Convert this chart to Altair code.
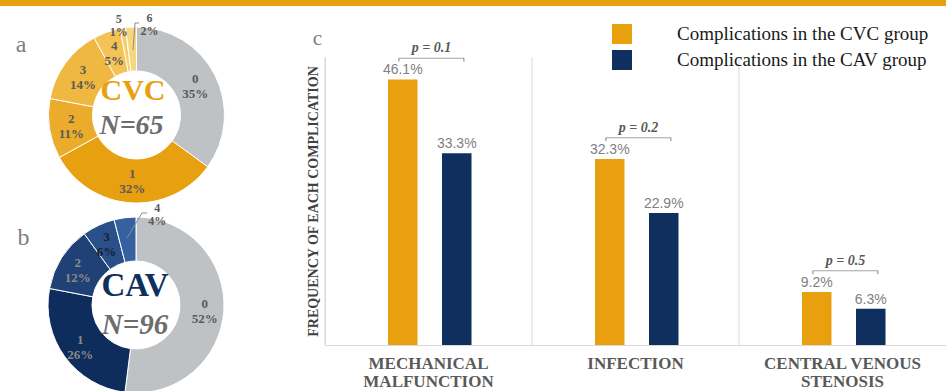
import altair as alt
import pandas as pd

# ---------------- data ----------------
categories = ["MECHANICAL\nMALFUNCTION", "INFECTION", "CENTRAL VENOUS\nSTENOSIS"]
cvc_freq = [46.1, 32.3, 9.2]
cav_freq = [33.3, 22.9, 6.3]
p_labels = ["p = 0.1", "p = 0.2", "p = 0.5"]
groups = ["Complications in the CVC group", "Complications in the CAV group"]

cvc_counts = ["0", "1", "2", "3", "4", "5", "6"]
cvc_share = [35, 32, 11, 14, 5, 1, 2]
cav_counts = ["0", "1", "2", "3", "4"]
cav_share = [52, 26, 12, 6, 4]

# ---------------- styles ----------------
ORANGE = "#E8A00E"
NAVY = "#0F2F5E"
GRID = "#D9D9D9"
cvc_colors = ["#BEC2C5", "#E6A010", "#EBAC2C", "#EFB840", "#F3C355", "#F6CD6B", "#F8D67E"]
cav_colors = ["#BEC2C5", "#0F2D5C", "#1F4175", "#2A5089", "#3561A0"]
cav_text_colors = ["#595959", "#8A8A8A", "#8A8A8A", "#141E33", "#595959"]
SERIF = "Liberation Serif"

# ---------------- tables ----------------
bar_rows = []
for i, c in enumerate(categories):
    bar_rows.append({"category": c, "group": groups[0], "value": cvc_freq[i]})
    bar_rows.append({"category": c, "group": groups[1], "value": cav_freq[i]})
bar_df = pd.DataFrame(bar_rows)

br_df = pd.DataFrame({"category": categories, "p": p_labels, "cvc": cvc_freq, "cav": cav_freq})

donut_rows = []
for i, (k, s) in enumerate(zip(cvc_counts, cvc_share)):
    donut_rows.append({"donut": "CVC", "idx": i, "count": k, "share": s})
for i, (k, s) in enumerate(zip(cav_counts, cav_share)):
    donut_rows.append({"donut": "CAV", "idx": i, "count": k, "share": s})
donut_df = pd.DataFrame(donut_rows)

one = pd.DataFrame({"k": [0]})

# ---------------- encodings ----------------
xaxis = alt.Axis(
    labelExpr="split(datum.label, '\\n')",
    labelFont=SERIF, labelFontSize=17, labelFontWeight="bold", labelColor="#595959",
    labelPadding=10, labelLineHeight=18, labelAngle=0, labelBaseline="top",
    ticks=False, domainColor=GRID, grid=False,
)
yaxis = alt.Axis(
    labels=False, ticks=False, grid=False, domainColor=GRID,
    titleFont=SERIF, titleFontSize=14, titleFontWeight="bold", titleColor="#404040",
    titlePadding=5,
)
YTITLE = "FREQUENCY OF EACH COMPLICATION"
xscale = alt.Scale(domain=categories, paddingInner=0, paddingOuter=0)
yscale = alt.Scale(domain=[0, 50], nice=False)


def xenc(**kw):
    return alt.X("category:N", sort=categories, scale=xscale, axis=xaxis, title=None, **kw)


def yenc(field):
    return alt.Y(field, scale=yscale, axis=yaxis, title=YTITLE)


xoff = alt.XOffset("group:N", sort=groups,
                   scale=alt.Scale(domain=groups, range=[63, 146.5], paddingInner=0.454, paddingOuter=0))

# ---------------- bar chart ----------------
grid = alt.Chart(br_df).mark_rule(color=GRID, strokeWidth=1).encode(
    x=xenc(bandPosition=0),
    y=alt.YDatum(0, scale=yscale, axis=yaxis, title=YTITLE),
    y2=alt.Y2Datum(50),
)

bars = alt.Chart(bar_df).mark_bar().encode(
    x=xenc(),
    xOffset=xoff,
    y=yenc("value:Q"),
    color=alt.Color(
        "group:N", sort=groups,
        scale=alt.Scale(domain=groups, range=[ORANGE, NAVY]),
        legend=alt.Legend(
            title=None, orient="none", legendX=287, legendY=-33,
            symbolType="square", symbolSize=400, symbolStrokeWidth=0, symbolOpacity=1,
            labelFont=SERIF, labelFontSize=19, labelColor="#1A1A1A",
            labelOffset=45, rowPadding=6, padding=0, labelLimit=400,
        ),
    ),
)

bar_text = alt.Chart(bar_df).transform_calculate(
    label="format(datum.value, '.1f') + '%'"
).mark_text(baseline="bottom", dy=-2, font="Liberation Sans", fontSize=14, color="#7F7F7F").encode(
    x=xenc(), xOffset=xoff, y=yenc("value:Q"), text="label:N"
)

br_base = alt.Chart(br_df).transform_calculate(
    level="max(datum.cvc, datum.cav) + 3.7",
    lo="max(datum.cvc, datum.cav) + 3.1",
)
br_line = br_base.mark_tick(thickness=1, size=65, color="#7F7F7F", xOffset=3).encode(
    x=xenc(), y=yenc("level:Q")
)
br_left = br_base.mark_rule(color="#7F7F7F").encode(
    x=xenc(bandPosition=0.357), y=yenc("level:Q"), y2="lo:Q"
)
br_right = br_base.mark_rule(color="#7F7F7F").encode(
    x=xenc(bandPosition=0.671), y=yenc("level:Q"), y2="lo:Q"
)
br_text = br_base.mark_text(
    baseline="bottom", dx=3, dy=-3, font=SERIF, fontStyle="italic", fontWeight="bold",
    fontSize=14, color="#595959"
).encode(x=xenc(), y=yenc("level:Q"), text="p:N")

# ---------------- donuts ----------------
theta_scale = alt.Scale(domain=[0, 100])
dbase = alt.Chart(donut_df).transform_stack(
    stack="share", groupby=["donut"], as_=["s0", "s1"], sort=[alt.SortField("idx", order="ascending")]
).transform_calculate(
    mid="(datum.s0 + datum.s1) / 2",
    lines="[datum.count, datum.share + '%']",
)

CVC_X, CVC_Y = -188.5, 58
CAV_X, CAV_Y = -189, 248


def donut(name, cx, cy, doms, cols):
    return dbase.transform_filter(f"datum.donut == '{name}'").mark_arc(
        innerRadius=44, outerRadius=88, stroke="white", strokeWidth=1
    ).encode(
        x=alt.value(cx), y=alt.value(cy),
        theta=alt.Theta("s0:Q", scale=theta_scale), theta2="s1:Q",
        color=alt.Color("count:N", scale=alt.Scale(domain=doms, range=cols), legend=None),
        order=alt.Order("idx:Q"),
    )


def dlabels(cond, cx, cy, radius, dx=0, dy=0, color=None, doms=None, cols=None, lh=15, fs=13):
    enc = dict(
        x=alt.value(cx), y=alt.value(cy),
        theta=alt.Theta("mid:Q", scale=theta_scale),
        text="lines:N",
    )
    if doms is not None:
        enc["color"] = alt.Color("count:N", scale=alt.Scale(domain=doms, range=cols), legend=None)
    mk = dict(radius=radius, dx=dx, dy=dy, baseline="middle", align="center", font=SERIF,
              fontWeight="bold", fontSize=fs, lineHeight=lh)
    if color is not None:
        mk["color"] = color
    return dbase.transform_filter(cond).mark_text(**mk).encode(**enc)


cvc_arc = donut("CVC", CVC_X, CVC_Y, cvc_counts, cvc_colors)
cav_arc = donut("CAV", CAV_X, CAV_Y, cav_counts, cav_colors)

cvc_in = dlabels("datum.donut == 'CVC' && datum.share >= 5", CVC_X, CVC_Y, 66, dy=-6.5, color="#595959")
cvc_5 = dlabels("datum.donut == 'CVC' && datum.count == '5'", CVC_X, CVC_Y, 95, dx=-3, dy=-2.5,
                color="#595959", lh=13, fs=12)
cvc_6 = dlabels("datum.donut == 'CVC' && datum.count == '6'", CVC_X, CVC_Y, 96, dx=19, dy=-1,
                color="#595959", lh=13, fs=12)
cav_in = dlabels("datum.donut == 'CAV' && datum.share >= 5", CAV_X, CAV_Y, 69, dy=-5.5,
                 doms=cav_counts, cols=cav_text_colors)
cav_4 = dlabels("datum.donut == 'CAV' && datum.count == '4'", CAV_X, CAV_Y, 93, dx=33, dy=-5,
                color="#595959", lh=13, fs=12)

# leader lines for small outside labels
lead = alt.Chart(one)
leaders = [
    lead.mark_rule(color="#8C8C8C").encode(x=alt.value(-192), y=alt.value(-7), x2=alt.value(-190), y2=alt.value(-34)),
    lead.mark_rule(color="#8C8C8C").encode(x=alt.value(-190), y=alt.value(-34), x2=alt.value(-186), y2=alt.value(-34)),
    lead.mark_rule(color="#8C8C8C").encode(x=alt.value(-198), y=alt.value(181), x2=alt.value(-183), y2=alt.value(156)),
    lead.mark_rule(color="#8C8C8C").encode(x=alt.value(-183), y=alt.value(156), x2=alt.value(-178), y2=alt.value(156)),
]


def note(txt, x, y, size, color, weight="normal", style="normal"):
    return alt.Chart(one).mark_text(
        text=txt, font=SERIF, fontSize=size, color=color, fontWeight=weight, fontStyle=style,
        align="center", baseline="middle"
    ).encode(x=alt.value(x), y=alt.value(y))


notes = [
    note("CVC", -192, 34, 30, ORANGE, "bold"),
    note("N=65", -193.5, 69, 28, "#6D6D6D", "bold", "italic"),
    note("CAV", -190, 229, 33, NAVY, "bold"),
    note("N=96", -190, 268, 29, "#6D6D6D", "bold", "italic"),
    note("a", -304, -12, 24, "#7F7F7F"),
    note("b", -301.5, 181, 24, "#7F7F7F"),
    note("c", -7.5, -18, 21, "#7F7F7F"),
]

band = alt.Chart(one).mark_rect(color=ORANGE).encode(
    x=alt.value(-325), x2=alt.value(621), y=alt.value(-57), y2=alt.value(-51)
)

chart = alt.layer(
    band, grid, bars, bar_text, br_line, br_left, br_right, br_text,
    cvc_arc, cav_arc, cvc_in, cvc_5, cvc_6, cav_in, cav_4,
    *leaders, *notes,
).resolve_scale(color="independent").properties(
    width=621, height=288,
    padding={"left": 325, "top": 57, "right": 0, "bottom": 46},
    autosize=alt.AutoSizeParams(type="none"),
    background="white",
).configure_view(stroke=None)

chart.save("out.html", embed_options={"renderer": "svg", "actions": False})
